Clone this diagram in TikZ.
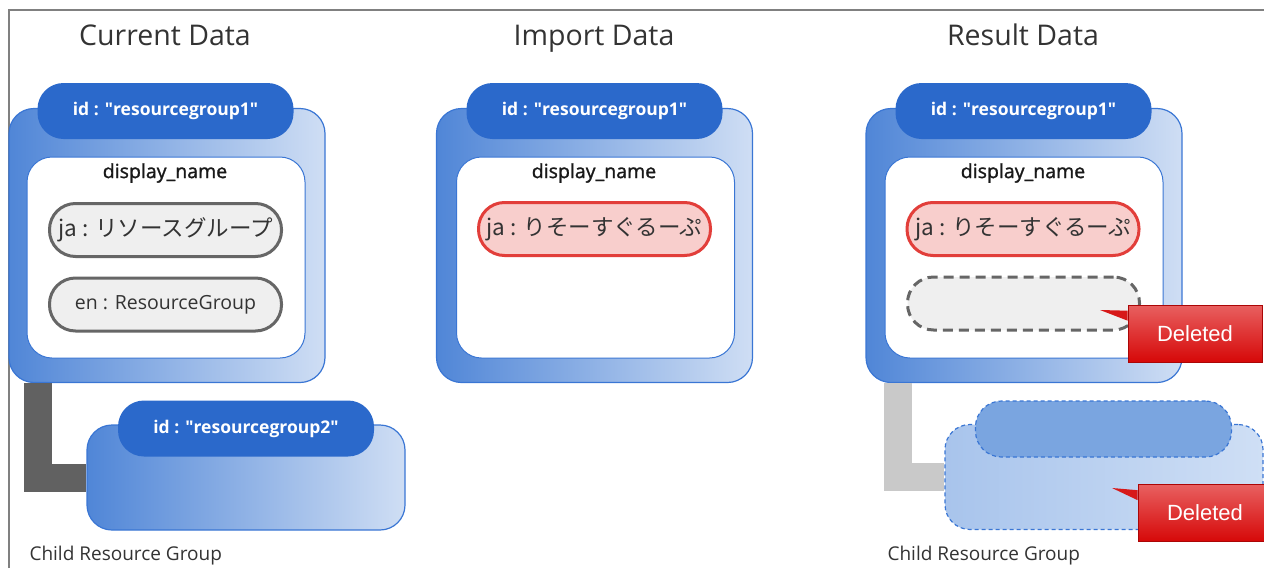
\documentclass[tikz,border=0pt]{standalone}
\usepackage{fontspec}
\setmainfont{Open Sans}
\newfontfamily\jafont{Noto Sans CJK JP}
\newfontfamily\arialfont{Liberation Sans}
\newfontfamily\semifont[FakeBold=1.3]{Open Sans}
\usetikzlibrary{positioning}

\definecolor{tabblue}{RGB}{43,105,203}
\definecolor{edgeblue}{RGB}{58,118,212}
\definecolor{panelleft}{RGB}{80,134,215}
\definecolor{panelright}{RGB}{207,222,244}
\definecolor{goneleft}{RGB}{168,196,236}
\definecolor{goneright}{RGB}{207,223,245}
\definecolor{gonetab}{RGB}{122,165,224}
\definecolor{pillgray}{RGB}{239,239,239}
\definecolor{pilledge}{RGB}{102,102,102}
\definecolor{newfill}{RGB}{248,206,204}
\definecolor{newedge}{RGB}{226,62,58}
\definecolor{deltop}{RGB}{232,96,96}
\definecolor{delbottom}{RGB}{214,8,8}
\definecolor{delred}{RGB}{215,25,25}

\newcommand{\qq}[1]{\textquotedbl#1\textquotedbl}

\begin{document}
\begin{tikzpicture}[
    x=1pt, y=-1pt,
    title/.style={anchor=base, font=\fontsize{28.5}{32}\selectfont, text=black!80},
    panel/.style={draw=edgeblue, line width=1.2pt, rounded corners=25pt, left color=panelleft, right color=panelright, minimum width=316pt, minimum height=274pt},
    idtab/.style={fill=tabblue, rounded corners=26pt, minimum width=256pt, minimum height=56pt, text=white, font=\bfseries\fontsize{17.5}{20}\selectfont},
    inner/.style={draw=edgeblue, line width=1pt, fill=white, rounded corners=25pt, minimum width=278pt, minimum height=201pt},
    fieldname/.style={font=\semifont\fontsize{19.5}{22}\selectfont, text=black!90},
    pill/.style={draw=pilledge, line width=3pt, fill=pillgray, rounded corners=26pt, minimum width=232pt, minimum height=53pt, font=\fontsize{19.5}{22}\selectfont, text=black!80},
    japill/.style={pill, font=\jafont\fontsize{22.5}{26}\selectfont},
    newpill/.style={japill, draw=newedge, fill=newfill},
    gonepill/.style={pill, dash pattern=on 10pt off 6pt},
    child/.style={panel, minimum width=318pt, minimum height=105pt},
    gonechild/.style={child, left color=goneleft, right color=goneright, line width=1.2pt, dash pattern=on 4pt off 3pt},
    gonetabbox/.style={idtab, fill=gonetab, draw=edgeblue, line width=1.2pt, dash pattern=on 4pt off 3pt},
    deleted/.style={draw=delbottom!80!black, line width=0.6pt, top color=deltop, bottom color=delbottom, minimum width=134pt, minimum height=57pt, text=white, font=\arialfont\fontsize{22}{26}\selectfont},
    caption/.style={anchor=west, font=\fontsize{19}{22}\selectfont, text=black!80},
    bar/.style={line width=28pt, draw=black!62},
    lightbar/.style={bar, draw=black!21}
]
\useasboundingbox (0,0) rectangle (1264,568);

% frame
\draw[black!50, line width=2pt] (9,568) -- (9,10) -- (1264,10);

% Current Data
\node[title] (curtitle) at (165,45) {Current Data};
\node[panel] (cur) at (167,245.5) {};
\node[idtab] (curtab) at (165.5,111) {id : \qq{resourcegroup1}};
\node[inner] (curin) at (166,257.5) {};
\node[fieldname] (curfield) at (165,173) {display\_name};
\node[japill] (curja) at (165.5,230) {ja : リソースグループ};
\node[pill] (curen) at (165.5,304.5) {en : ResourceGroup};
\node[child] (curchild) at (246,477.5) {};
\node[idtab] (curchildtab) at (246,428.5) {id : \qq{resourcegroup2}};
\draw[bar] ([xshift=30pt]cur.south west) |- (curchild.west);
\node[caption] (curcap) at (26,556) {Child Resource Group};

% Import Data
\node[title] (imptitle) at (594,45) {Import Data};
\node[panel] (imp) at (594.5,245.5) {};
\node[idtab] (imptab) at (594.5,111) {id : \qq{resourcegroup1}};
\node[inner] (impin) at (595.5,257.5) {};
\node[fieldname] (impfield) at (594,173) {display\_name};
\node[newpill] (impja) at (594.5,229) {ja : りそーすぐるーぷ};

% Result Data
\node[title] (restitle) at (1023,45) {Result Data};
\node[panel] (res) at (1024,245.5) {};
\node[idtab] (restab) at (1023.5,111) {id : \qq{resourcegroup1}};
\node[inner] (resin) at (1024,257.5) {};
\node[fieldname] (resfield) at (1023,173) {display\_name};
\node[newpill] (resja) at (1023,229) {ja : りそーすぐるーぷ};
\node[gonepill] (resen) at (1023.5,303.5) {};
\node[gonechild] (reschild) at (1104,477) {};
\node[gonetabbox] (reschildtab) at (1103.5,429) {};
\draw[lightbar] ([xshift=32.5pt]res.south west) |- (reschild.west);
\node[caption] (rescap) at (884,556) {Child Resource Group};

% Deleted marks
\node[deleted] (del1) at (1195,333.5) {Deleted};
\coordinate (cut1) at (1100,310);
\fill[delred] (cut1) -- ([yshift=-6pt]del1.north west) -- ([yshift=-16pt]del1.north west) -- cycle;
\node[deleted] (del2) at (1205,513) {Deleted};
\coordinate (cut2) at (1112,488);
\fill[delred] (cut2) -- ([yshift=-6pt]del2.north west) -- ([yshift=-16pt]del2.north west) -- cycle;

\end{tikzpicture}
\end{document}
